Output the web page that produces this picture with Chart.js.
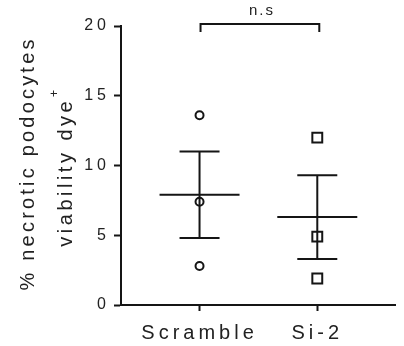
<!DOCTYPE html>
<html>
<head>
<meta charset="utf-8">
<script src="https://cdn.jsdelivr.net/npm/chart.js@4"></script>
<style>
  html, body { margin: 0; padding: 0; background: #fff; }
</style>
</head>
<body>
<canvas id="chart" width="404" height="346"></canvas>
<script>

// values
const groups = ["Scramble", "Si-2"];
const scrambleValues = [13.6, 7.4, 2.8];
const si2Values = [12.0, 4.9, 1.9];
const means = [7.9, 6.3];
const sems = [3.1, 3.0];
const yTicks = [0, 5, 10, 15, 20];
const sigLabel = "n.s";
const yTitle = ["% necrotic podocytes", "viability dye"];

const ink = "#151515";
const fontFamily = "'Liberation Sans', Arial, sans-serif";

function toPoints(values, groupIndex) {
    return values.map(v => ({ x: groupIndex + 1, y: v }));
}

function drawRotated(ctx, text, x, y, size, spacing) {
    ctx.save();
    ctx.fillStyle = "#222";
    ctx.font = size + "px " + fontFamily;
    ctx.letterSpacing = spacing + "px";
    ctx.textAlign = "center";
    ctx.textBaseline = "middle";
    ctx.translate(x, y);
    ctx.rotate(-Math.PI / 2);
    ctx.fillText(text, spacing / 2, 0);
    const w = ctx.measureText(text).width;
    ctx.restore();
    return w;
}

const statsPlugin = {

    id: "stats",

    beforeDraw(chart) {
        chart.ctx.letterSpacing = "4px";
    },

    afterDatasetsDraw(chart) {

        const ctx = chart.ctx;
        const xs = chart.scales.x;
        const ys = chart.scales.y;

        ctx.save();
        ctx.strokeStyle = ink;
        ctx.lineWidth = 2;

        // mean line and SEM bars
        means.forEach((m, i) => {
            const cx = xs.getPixelForValue(i + 1);
            const ym = ys.getPixelForValue(m);
            const yt = ys.getPixelForValue(m + sems[i]);
            const yb = ys.getPixelForValue(m - sems[i]);
            ctx.beginPath();
            ctx.moveTo(cx - 40, ym);
            ctx.lineTo(cx + 40, ym);
            ctx.moveTo(cx, yt);
            ctx.lineTo(cx, yb);
            ctx.moveTo(cx - 20, yt);
            ctx.lineTo(cx + 20, yt);
            ctx.moveTo(cx - 20, yb);
            ctx.lineTo(cx + 20, yb);
            ctx.stroke();
        });

        // significance bracket
        const x1 = xs.getPixelForValue(1) + 1;
        const x2 = xs.getPixelForValue(2) + 2;
        const top = chart.chartArea.top - 2;
        ctx.beginPath();
        ctx.moveTo(x1, top + 8);
        ctx.lineTo(x1, top);
        ctx.lineTo(x2, top);
        ctx.lineTo(x2, top + 8);
        ctx.stroke();

        ctx.fillStyle = "#222";
        ctx.font = "15px " + fontFamily;
        ctx.letterSpacing = "2px";
        ctx.textAlign = "center";
        ctx.textBaseline = "alphabetic";
        ctx.fillText(sigLabel, (x1 + x2) / 2 + 2, 15);

        ctx.restore();
    },

    afterDraw(chart) {

        const ctx = chart.ctx;

        drawRotated(ctx, yTitle[0], 28, 165, 20, 3.2);
        const w = drawRotated(ctx, yTitle[1], 66, 174, 20, 3.5);

        // superscript plus after "dye"
        ctx.save();
        ctx.fillStyle = "#222";
        ctx.font = "12px " + fontFamily;
        ctx.letterSpacing = "0px";
        ctx.textAlign = "center";
        ctx.textBaseline = "middle";
        ctx.translate(66, 174);
        ctx.rotate(-Math.PI / 2);
        ctx.fillText("+", w / 2 + 6, -11);
        ctx.restore();
    }

};

new Chart(document.getElementById("chart"), {

    type: "scatter",

    data: {
        datasets: [
            {
                label: groups[0],
                data: toPoints(scrambleValues, 0),
                pointStyle: "circle",
                radius: 4,
                borderWidth: 2,
                borderColor: ink,
                backgroundColor: "rgba(0,0,0,0)"
            },
            {
                label: groups[1],
                data: toPoints(si2Values, 1),
                pointStyle: "rect",
                radius: 7,
                borderWidth: 2,
                borderColor: ink,
                backgroundColor: "rgba(0,0,0,0)"
            }
        ]
    },

    options: {

        responsive: false,
        animation: false,
        events: [],

        layout: {
            padding: { top: 26, right: 4, bottom: 0, left: 0 }
        },

        plugins: {
            legend: { display: false },
            tooltip: { enabled: false }
        },

        scales: {

            x: {
                type: "linear",
                min: 0.333,
                max: 2.66,
                afterFit(scale) {
                    scale.height = 41;
                },
                afterBuildTicks(scale) {
                    scale.ticks = groups.map((g, i) => ({ value: i + 1 }));
                },
                grid: {
                    drawOnChartArea: false,
                    drawTicks: true,
                    tickLength: 6,
                    tickWidth: 2,
                    tickColor: ink
                },
                border: { color: ink, width: 2 },
                ticks: {
                    color: "#222",
                    padding: 10,
                    font: { family: fontFamily, size: 20 },
                    callback: v => groups[v - 1]
                }
            },

            y: {
                min: 0,
                max: 20,
                afterFit(scale) {
                    scale.width = 121;
                },
                afterBuildTicks(scale) {
                    scale.ticks = yTicks.map(v => ({ value: v }));
                },
                grid: {
                    drawOnChartArea: false,
                    drawTicks: true,
                    tickLength: 7,
                    tickWidth: 2,
                    tickColor: ink
                },
                border: { color: ink, width: 2 },
                ticks: {
                    color: "#222",
                    padding: 4,
                    font: { family: fontFamily, size: 16 }
                }
            }

        }

    },

    plugins: [statsPlugin]

});

</script>
</body>
</html>
